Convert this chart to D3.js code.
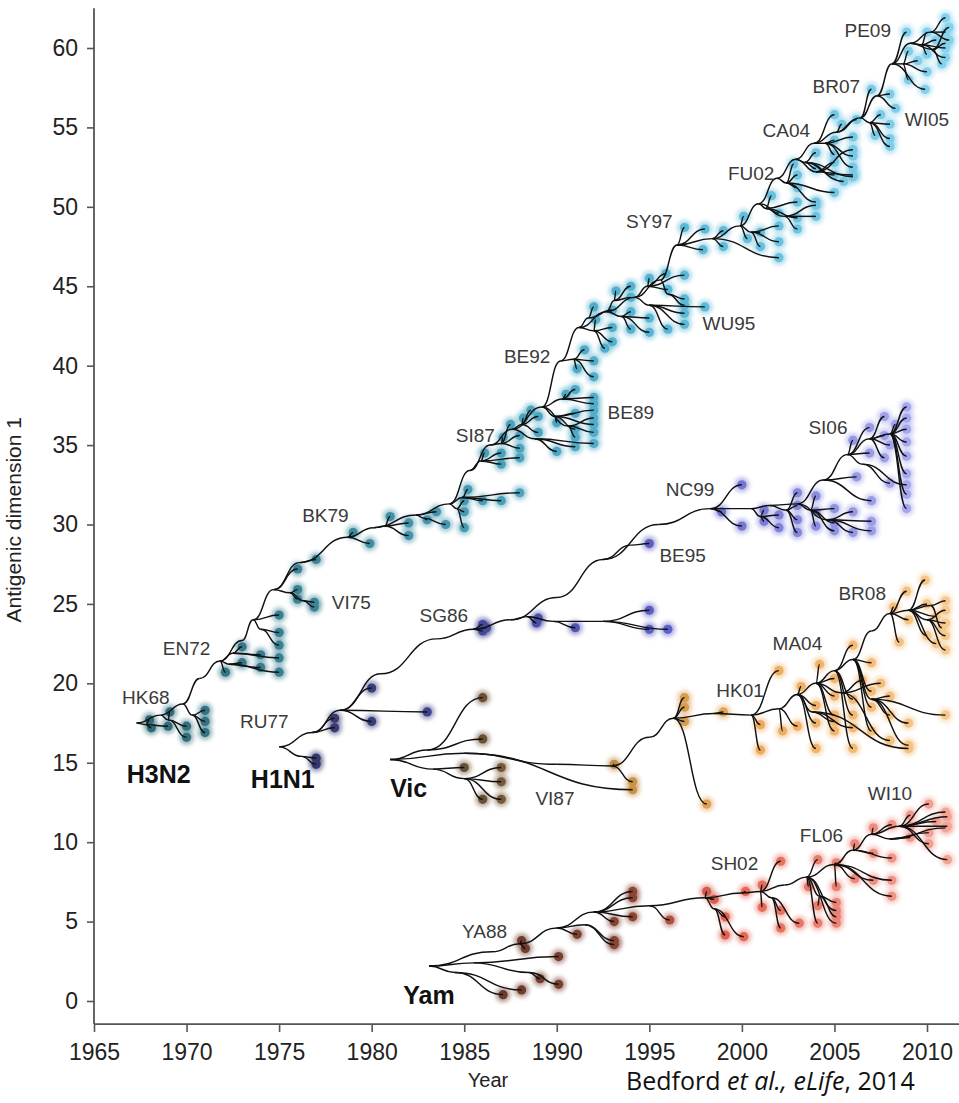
<!DOCTYPE html>
<html>
<head>
<meta charset="utf-8">
<script src="https://cdn.jsdelivr.net/npm/d3@7"></script>
<style>
  body { margin: 0; background: #fff; }
  svg { display: block; font-family: "Liberation Sans", Arial, Helvetica, sans-serif; }
</style>
</head>
<body>
<script>
// ---- axis values ----
var yearTicks = [1965, 1970, 1975, 1980, 1985, 1990, 1995, 2000, 2005, 2010];
var dimTicks = [0, 5, 10, 15, 20, 25, 30, 35, 40, 45, 50, 55, 60];

// ---- H3N2 tree: internal nodes [id, parent, year, dim1] and tips [parent, year, dim1] ----
var h3n2Nodes = [
  ["t0", null, 1967.3, 17.5], ["t1", "t0", 1968.6, 18.0], ["t2", "t1", 1969.8, 18.7],
  ["t3", "t2", 1970.7, 20.3], ["t4", "t3", 1971.8, 21.4], ["t5", "t4", 1973.0, 22.7],
  ["t6", "t5", 1973.6, 24.0], ["t7", "t6", 1974.7, 25.9], ["t8", "t7", 1976.1, 27.6],
  ["t9", "t8", 1978.7, 29.2], ["t10", "t9", 1980.1, 29.8], ["t11", "t10", 1982.4, 30.6],
  ["t12", "t11", 1984.2, 31.3], ["t13", "t12", 1985.3, 33.4], ["t14", "t13", 1986.4, 35.0],
  ["t15", "t14", 1987.6, 36.0], ["t16", "t15", 1989.2, 37.4], ["t17", "t16", 1990.2, 40.3],
  ["t18", "t17", 1991.2, 42.4], ["t19", "t18", 1992.7, 43.4], ["t20", "t19", 1994.2, 44.3],
  ["t21", "t20", 1995.6, 45.4], ["t22", "t21", 1996.5, 47.6], ["t23", "t22", 1998.4, 48.0],
  ["t24", "t23", 1999.9, 48.8], ["t25", "t24", 2000.9, 50.2], ["t26", "t25", 2001.9, 51.8],
  ["t27", "t26", 2002.9, 53.0], ["t28", "t27", 2003.9, 54.0], ["t29", "t28", 2005.1, 54.7],
  ["t30", "t29", 2006.4, 55.6], ["t31", "t30", 2007.3, 57.0], ["t32", "t31", 2008.1, 59.0],
  ["t33", "t32", 2009.1, 60.3], ["t34", "t33", 2010.2, 61.0],
  ["s1", "t0", 1967.8, 17.4], ["s2", "t1", 1969.0, 17.7], ["s3", "t2", 1970.3, 18.0],
  ["s4", "t4", 1972.3, 21.2], ["s5", "t4", 1972.5, 21.9], ["s6", "t6", 1974.0, 23.4],
  ["s8", "t7", 1975.6, 25.7], ["s8b", "s8", 1976.3, 25.2], ["s10", "t10", 1980.7, 29.9],
  ["s11", "t11", 1982.8, 30.4], ["s12", "t12", 1984.6, 31.0], ["s13", "t12", 1984.9, 31.7],
  ["s14", "t13", 1985.9, 34.0], ["s15", "t14", 1987.0, 35.1], ["s16", "t15", 1988.1, 36.3],
  ["s17", "t16", 1989.9, 36.8], ["s18", "t16", 1990.3, 37.9], ["s18b", "t15", 1988.8, 35.4],
  ["s19", "t17", 1990.9, 40.4], ["s20", "t18", 1992.0, 42.2], ["s21", "t19", 1993.5, 43.1],
  ["s22", "t20", 1995.0, 43.8], ["s23", "t19", 1993.1, 44.1], ["s24", "t20", 1994.9, 45.0],
  ["s25", "t18", 1991.7, 43.0], ["s27", "t24", 2000.5, 48.4], ["s28", "t25", 2001.3, 49.9],
  ["s29", "t26", 2002.4, 51.5], ["s30", "t27", 2003.4, 52.8], ["s31", "t28", 2004.5, 54.0],
  ["s32", "t30", 2006.9, 55.3], ["s33", "t32", 2008.7, 59.0], ["s34", "t33", 2009.7, 60.2],
  ["s35", "t25", 2002.3, 49.4], ["s36", "t33", 2010.3, 59.9], ["s37", "t27", 2004.0, 52.2],
  ["s38", "t16", 1990.6, 36.2], ["s39", "t21", 1996.0, 44.5]
];
var h3n2Tips = [
  ["s1", 1968.0, 17.7], ["s1", 1968.1, 17.2], ["s1", 1969.0, 17.3],
  ["s2", 1969.1, 18.2], ["s2", 1970.0, 16.6], ["s2", 1970.0, 17.3],
  ["s3", 1971.0, 16.9], ["s3", 1971.0, 17.6], ["s3", 1971.0, 18.3],
  ["t4", 1972.1, 20.7], ["s4", 1973.0, 21.3], ["s4", 1974.0, 21.0], ["s4", 1975.0, 20.7],
  ["s5", 1973.0, 22.3], ["s5", 1974.0, 21.8], ["s5", 1975.0, 21.6],
  ["s6", 1975.0, 22.4], ["s6", 1975.0, 23.2], ["t6", 1975.0, 24.3],
  ["s8", 1976.0, 25.9], ["s8", 1976.0, 25.3], ["s8b", 1976.9, 25.1], ["s8b", 1976.9, 24.8],
  ["t7", 1976.0, 27.2], ["t8", 1977.0, 27.8],
  ["t9", 1979.0, 29.5], ["t9", 1979.9, 28.8],
  ["s10", 1981.0, 30.5], ["s10", 1982.0, 29.3], ["s10", 1982.0, 30.1],
  ["s11", 1983.0, 30.3], ["s11", 1984.0, 30.0], ["t11", 1983.5, 30.8],
  ["s12", 1985.0, 31.5], ["s12", 1985.0, 30.8], ["s12", 1985.0, 29.8],
  ["s13", 1985.2, 32.2], ["s13", 1986.0, 31.5], ["s13", 1987.0, 31.5], ["s13", 1988.0, 32.0],
  ["s14", 1986.1, 34.5], ["s14", 1987.0, 33.8], ["s14", 1987.0, 34.5], ["s14", 1988.0, 34.2],
  ["s15", 1987.1, 35.5], ["s15", 1988.0, 34.8], ["s15", 1988.0, 35.6], ["s15", 1987.5, 36.3],
  ["s16", 1988.2, 36.7], ["s16", 1989.0, 35.8], ["s16", 1989.0, 36.8], ["s16", 1988.6, 37.2],
  ["s17", 1990.0, 36.4], ["s17", 1991.0, 36.0], ["s17", 1991.0, 37.0], ["s17", 1992.0, 36.3], ["s17", 1992.0, 37.2],
  ["s18", 1990.5, 38.2], ["s18", 1991.0, 38.5], ["s18", 1992.0, 38.0], ["s18", 1992.0, 37.6],
  ["s18b", 1990.0, 34.6], ["s18b", 1991.0, 34.9], ["s18b", 1992.0, 35.1],
  ["s38", 1991.0, 35.5], ["s38", 1992.0, 35.8], ["s38", 1992.0, 36.7],
  ["s19", 1991.1, 39.8], ["s19", 1992.0, 39.3], ["s19", 1992.0, 40.3], ["s19", 1991.5, 41.0],
  ["s20", 1992.1, 42.9], ["s20", 1993.0, 41.5], ["s20", 1993.0, 42.4], ["s20", 1992.6, 41.1],
  ["s21", 1994.0, 42.3], ["s21", 1994.0, 43.4], ["s21", 1995.0, 42.1], ["s21", 1995.0, 43.0],
  ["s22", 1996.0, 42.3], ["s22", 1996.9, 42.6], ["s22", 1996.9, 43.3], ["s22", 1998.0, 43.7],
  ["s23", 1993.2, 44.7], ["s23", 1994.0, 45.0], ["s23", 1994.0, 44.3],
  ["s24", 1995.0, 45.5], ["s24", 1995.9, 45.8], ["s24", 1996.9, 45.7], ["s24", 1996.0, 44.8],
  ["s39", 1996.9, 44.2], ["s39", 1996.9, 43.8],
  ["s25", 1992.0, 43.7], ["s25", 1993.0, 43.5],
  ["t22", 1996.9, 48.7], ["t22", 1997.9, 47.3], ["t22", 1998.0, 48.6],
  ["t23", 1999.0, 47.5], ["t23", 1999.0, 48.5], ["t23", 2002.0, 46.8],
  ["s27", 2001.0, 47.5], ["s27", 2001.0, 48.4], ["s27", 2002.0, 47.8], ["s27", 2002.0, 48.8],
  ["t24", 2000.1, 49.4], ["t24", 2000.3, 48.0],
  ["s28", 2001.6, 50.7], ["s28", 2002.0, 49.6], ["s28", 2003.0, 49.3], ["s28", 2003.0, 50.3],
  ["s35", 2003.0, 48.6], ["s35", 2004.0, 49.4], ["s35", 2004.0, 50.1],
  ["s29", 2003.0, 51.2], ["s29", 2003.0, 52.0], ["s29", 2004.0, 50.3], ["s29", 2002.8, 52.7], ["s29", 2005.0, 50.9],
  ["s30", 2004.0, 52.4], ["s30", 2004.0, 53.4], ["s30", 2005.0, 52.0], ["s30", 2005.5, 51.6], ["s30", 2006.0, 51.9],
  ["s37", 2005.0, 52.8], ["s37", 2006.0, 52.0], ["s37", 2006.0, 53.6],
  ["s31", 2005.0, 53.3], ["s31", 2005.0, 54.2], ["s31", 2006.0, 53.2], ["s31", 2006.0, 54.4], ["s31", 2006.0, 52.5],
  ["t28", 2005.0, 55.8], ["t29", 2005.4, 55.2], ["t29", 2006.2, 55.5],
  ["s32", 2007.2, 54.5], ["s32", 2007.5, 55.8], ["s32", 2008.0, 54.3], ["s32", 2008.0, 55.2], ["s32", 2008.0, 53.8],
  ["t30", 2007.0, 57.4], ["t31", 2008.0, 57.1], ["t31", 2008.3, 56.2],
  ["t32", 2008.9, 61.0], ["t32", 2009.9, 57.4],
  ["s33", 2009.0, 58.0], ["s33", 2009.5, 59.2], ["s33", 2010.0, 58.5], ["s33", 2009.0, 59.8],
  ["s34", 2010.0, 59.6], ["s34", 2010.5, 60.5], ["s34", 2011.0, 60.0], ["s34", 2011.0, 59.4], ["s34", 2010.0, 61.0],
  ["s36", 2011.0, 60.3], ["s36", 2010.8, 59.0], ["s36", 2011.2, 61.3],
  ["t34", 2011.0, 61.9], ["t34", 2011.0, 61.0], ["t34", 2011.2, 60.5]
];

// ---- H1N1 tree ----
var h1n1Nodes = [
  ["n0", null, 1975.0, 16.0], ["n1", "n0", 1976.2, 15.4], ["n2", "n0", 1976.8, 16.9],
  ["n3", "n2", 1978.3, 18.3], ["n4", "n3", 1980.5, 20.6], ["n5", "n4", 1983.5, 22.8],
  ["n6", "n5", 1985.5, 23.4], ["n7", "n6", 1987.5, 24.0], ["n8", "n7", 1988.4, 24.2],
  ["n9", "n8", 1989.8, 23.9], ["n10", "n9", 1992.5, 23.9], ["n11", "n7", 1990.0, 25.4],
  ["n12", "n11", 1992.5, 27.8], ["n13", "n12", 1994.0, 28.7], ["n14", "n12", 1995.5, 30.0],
  ["n15", "n14", 1998.3, 31.0], ["n16", "n15", 2000.5, 31.0], ["n17", "n16", 2001.5, 31.2],
  ["n18", "n17", 2003.0, 31.3], ["n19", "n18", 2004.4, 32.8], ["n20", "n19", 2005.7, 34.4],
  ["n21", "n20", 2006.9, 35.4], ["n22", "n21", 2008.0, 35.7],
  ["na", "n16", 2001.0, 30.5], ["nb", "n17", 2002.4, 30.9], ["nc", "n18", 2003.7, 30.9],
  ["nd", "n18", 2004.6, 30.3], ["ne", "n20", 2006.5, 33.8]
];
var h1n1Tips = [
  ["n1", 1977.0, 15.3], ["n1", 1977.0, 14.9],
  ["n2", 1978.0, 17.8], ["n2", 1978.0, 17.2],
  ["n3", 1980.0, 19.7], ["n3", 1980.0, 17.6], ["n3", 1983.0, 18.2],
  ["n6", 1986.0, 23.3], ["n6", 1986.0, 23.7], ["n6", 1986.2, 23.5],
  ["n8", 1988.9, 23.8], ["n8", 1989.0, 24.1], ["n9", 1991.0, 23.5],
  ["n10", 1995.0, 24.6], ["n10", 1995.0, 23.4], ["n10", 1996.0, 23.4],
  ["n13", 1995.0, 28.8],
  ["n15", 1998.9, 30.8], ["n15", 2000.0, 32.5], ["n15", 2000.0, 29.9],
  ["na", 2001.2, 30.9], ["na", 2001.2, 30.2], ["na", 2002.0, 30.6], ["na", 2002.0, 29.8],
  ["nb", 2003.0, 32.0], ["nb", 2003.0, 31.2], ["nb", 2003.0, 30.3], ["nb", 2003.0, 29.5],
  ["nc", 2004.0, 31.8], ["nc", 2004.0, 30.8], ["nc", 2004.0, 29.9], ["nc", 2005.0, 31.0], ["nc", 2005.0, 30.1], ["nc", 2005.0, 29.6],
  ["nd", 2006.0, 30.8], ["nd", 2006.0, 29.5], ["nd", 2007.0, 30.2], ["nd", 2007.0, 29.6],
  ["n19", 2006.2, 33.0], ["n19", 2007.0, 31.5],
  ["ne", 2008.0, 32.6], ["ne", 2008.9, 32.5],
  ["n20", 2006.0, 35.3], ["n20", 2006.9, 34.5], ["n20", 2006.9, 36.1],
  ["n21", 2007.7, 36.8], ["n21", 2007.7, 35.6], ["n21", 2007.7, 34.2], ["n21", 2008.0, 35.0],
  ["n22", 2008.9, 37.4], ["n22", 2008.9, 36.7], ["n22", 2008.9, 36.0], ["n22", 2008.9, 35.2],
  ["n22", 2008.9, 34.3], ["n22", 2008.9, 33.2], ["n22", 2008.9, 31.9], ["n22", 2008.9, 31.0],
  ["n22", 2008.3, 36.3]
];

// ---- B/Victoria tree ----
var vicNodes = [
  ["v0", null, 1981.0, 15.2], ["va", "v0", 1983.0, 15.8], ["vb", "v0", 1983.3, 14.6],
  ["vb2", "vb", 1985.0, 14.0], ["v1", "v0", 1985.0, 15.6], ["v2", "v1", 1990.0, 14.9],
  ["v3", "v2", 1993.0, 14.8], ["v4", "v3", 1995.0, 16.6], ["v5", "v4", 1996.3, 17.8],
  ["v6", "v5", 1998.5, 18.1], ["v7", "v6", 2000.5, 18.0], ["v8", "v7", 2002.0, 18.4],
  ["v9", "v8", 2003.0, 19.3], ["v10", "v9", 2004.0, 20.0], ["v11", "v10", 2005.0, 20.8],
  ["v12", "v11", 2006.0, 21.5], ["v12b", "v12", 2007.0, 19.0], ["v13", "v12", 2007.0, 23.3],
  ["v14", "v13", 2008.0, 24.4], ["v15", "v14", 2009.0, 24.6], ["v16", "v15", 2010.0, 24.0],
  ["v10b", "v10", 2005.4, 19.4], ["v15b", "v15", 2010.2, 24.9], ["v9b", "v9", 2003.8, 18.2]
];
var vicTips = [
  ["va", 1986.0, 19.1], ["va", 1986.0, 16.5], ["vb", 1985.0, 14.7],
  ["vb2", 1987.0, 14.7], ["vb2", 1987.0, 13.8], ["vb2", 1986.0, 12.7], ["vb2", 1987.0, 12.7],
  ["v3", 1993.1, 14.9], ["v3", 1994.1, 13.8], ["v1", 1994.1, 13.3],
  ["v5", 1996.9, 19.1], ["v5", 1996.9, 18.5], ["v5", 1996.9, 17.6], ["v5", 1998.1, 12.4],
  ["v6", 1999.0, 18.2], ["v7", 2001.0, 15.8], ["v7", 2001.0, 17.4], ["v7", 2002.0, 20.8],
  ["v8", 2002.2, 17.0], ["v8", 2003.0, 17.3],
  ["v9", 2003.2, 19.8], ["v9", 2004.0, 18.6], ["v9", 2004.0, 17.5], ["v9", 2004.0, 15.9],
  ["v9b", 2005.0, 17.6], ["v9b", 2006.0, 17.2], ["v9b", 2009.0, 15.9],
  ["v10", 2004.2, 21.2], ["v10", 2005.0, 20.3], ["v10", 2005.0, 19.2], ["v10", 2005.0, 18.0], ["v10", 2005.0, 17.0],
  ["v10b", 2006.5, 20.2], ["v10b", 2007.5, 20.0], ["v10b", 2008.0, 16.4],
  ["v11", 2006.0, 22.4], ["v11", 2006.0, 19.0], ["v11", 2006.0, 18.0], ["v11", 2006.0, 15.9],
  ["v12", 2007.0, 21.3], ["v12", 2007.0, 19.5], ["v12", 2007.0, 18.5], ["v12", 2007.0, 17.0],
  ["v12b", 2008.0, 19.2], ["v12b", 2008.0, 18.0], ["v12b", 2009.0, 16.1], ["v12b", 2009.0, 17.5], ["v12b", 2011.0, 18.0],
  ["v14", 2008.2, 24.8], ["v14", 2008.9, 25.8], ["v14", 2009.0, 24.0], ["v14", 2008.5, 22.6],
  ["v15", 2009.9, 26.5], ["v15", 2010.0, 25.0], ["v15", 2010.0, 23.0], ["v15", 2010.5, 22.5], ["v15", 2010.5, 24.2],
  ["v15b", 2011.0, 25.2], ["v15b", 2010.8, 23.5],
  ["v16", 2011.0, 24.6], ["v16", 2011.0, 23.8], ["v16", 2011.0, 23.0], ["v16", 2011.0, 22.1]
];

// ---- B/Yamagata tree ----
var yamNodes = [
  ["y0", null, 1983.1, 2.2], ["ya", "y0", 1984.5, 1.8], ["yb", "y0", 1985.5, 2.4],
  ["yb2", "yb", 1988.5, 1.8], ["y2", "y0", 1986.5, 3.1], ["y3", "y2", 1988.0, 3.6],
  ["y4", "y3", 1990.0, 4.6], ["yc", "y4", 1991.5, 4.8], ["y5", "y4", 1992.0, 5.6],
  ["y6", "y5", 1995.0, 6.0], ["y7", "y6", 1998.0, 6.5], ["yd", "y7", 1998.5, 5.8],
  ["y8", "y7", 2000.0, 6.8], ["y9", "y8", 2001.0, 6.9], ["ye", "y9", 2001.6, 6.5],
  ["y10", "y9", 2002.3, 7.3], ["y11", "y10", 2003.5, 7.8], ["y12", "y11", 2005.0, 8.6],
  ["y13", "y12", 2006.0, 9.5], ["y14", "y13", 2007.0, 10.5], ["y15", "y14", 2008.5, 11.0],
  ["yf", "y11", 2004.2, 6.6], ["yg", "y14", 2008.0, 10.2]
];
var yamTips = [
  ["ya", 1987.1, 0.4], ["ya", 1988.1, 0.7], ["yb2", 1989.1, 1.4], ["yb2", 1990.1, 1.05], ["yb", 1990.1, 2.8],
  ["y3", 1988.1, 3.8], ["y3", 1988.3, 3.3], ["y4", 1991.1, 4.2],
  ["yc", 1993.1, 3.8], ["yc", 1993.1, 3.55],
  ["y5", 1994.1, 6.5], ["y5", 1994.1, 6.9], ["y5", 1994.1, 5.3], ["y5", 1993.1, 5.0],
  ["y6", 1996.1, 5.1], ["y7", 1998.1, 6.9], ["y7", 1998.5, 6.4],
  ["yd", 1999.1, 4.15], ["yd", 2000.1, 4.05], ["yd", 1999.1, 5.3],
  ["y8", 2000.2, 6.9], ["y9", 2001.1, 7.3], ["y9", 2001.1, 5.9], ["y9", 2002.1, 8.8],
  ["ye", 2002.1, 4.6], ["ye", 2002.1, 5.7], ["ye", 2003.1, 4.9],
  ["yf", 2005.1, 6.2], ["yf", 2005.1, 5.3], ["yf", 2004.1, 6.0],
  ["y11", 2004.1, 8.9], ["y11", 2004.1, 4.9], ["y11", 2005.1, 5.7], ["y11", 2005.1, 4.9], ["y11", 2003.6, 7.2],
  ["y12", 2005.1, 8.7], ["y12", 2005.1, 7.2], ["y12", 2006.1, 7.7], ["y12", 2007.1, 7.6], ["y12", 2008.1, 7.6], ["y12", 2008.1, 6.6],
  ["y13", 2006.1, 9.9], ["y13", 2007.1, 9.3], ["y13", 2008.1, 9.0],
  ["y14", 2007.1, 10.9], ["y14", 2008.1, 11.1],
  ["yg", 2009.1, 10.3], ["yg", 2010.1, 10.6], ["yg", 2011.0, 10.9],
  ["y15", 2009.1, 11.0], ["y15", 2009.1, 11.7], ["y15", 2010.1, 12.4], ["y15", 2010.1, 9.9],
  ["y15", 2011.1, 11.0], ["y15", 2011.1, 11.6], ["y15", 2011.1, 8.9], ["y15", 2010.5, 11.3], ["y15", 2011.0, 11.9]
];

// ---- colour ramps by year ----
var h3n2ColorYears = [1968, 1980, 1995, 2011];
var h3n2Colors = ["#2f6977", "#3f8ea3", "#55b5d4", "#86d2ec"];
var h1n1ColorYears = [1977, 1986, 1996, 2009];
var h1n1Colors = ["#35386e", "#44489a", "#5d60c8", "#a7a8ee"];
var vicColorYears = [1986, 1994, 2001, 2011];
var vicColors = ["#6a5033", "#c99448", "#eeaa5a", "#f6c98f"];
var yamColorYears = [1987, 1994, 1999, 2011];
var yamColors = ["#6a3a2c", "#8a4535", "#e3604f", "#f3a497"];

// ---- labels [text, year, dim1] ----
var strainLabels = [
  ["HK68", 1967.8, 19.1], ["EN72", 1970.0, 22.2], ["VI75", 1978.9, 25.1], ["BK79", 1977.5, 30.6],
  ["SI87", 1985.6, 35.6], ["BE92", 1988.4, 40.6], ["BE89", 1994.0, 37.1], ["WU95", 1999.3, 42.7],
  ["SY97", 1995.0, 49.1], ["FU02", 2000.5, 52.1], ["CA04", 2002.4, 54.8], ["BR07", 2005.1, 57.6],
  ["PE09", 2006.8, 61.1], ["WI05", 2010.0, 55.5],
  ["RU77", 1974.2, 17.6], ["SG86", 1983.9, 24.3], ["BE95", 1996.8, 28.1], ["NC99", 1997.2, 32.2],
  ["SI06", 2004.65, 36.1],
  ["VI87", 1989.9, 12.8], ["HK01", 1999.9, 19.6], ["MA04", 2003.0, 22.5], ["BR08", 2006.5, 25.7],
  ["YA88", 1986.1, 4.4], ["SH02", 1999.6, 8.7], ["FL06", 2004.3, 10.45], ["WI10", 2008.0, 13.1]
];
var lineageLabels = [
  ["H3N2", 1968.5, 14.3], ["H1N1", 1975.2, 14.0], ["Vic", 1982.0, 13.4], ["Yam", 1983.1, 0.4]
];

// ---- set up ----
var W = 959, H = 1103;
var x = d3.scaleLinear().domain([1965, 2010]).range([94, 927]);
var y = d3.scaleLinear().domain([0, 60]).range([1001, 48]);
var xMin = 1965, xMax = 2011.73, yMin = -1.45, yMax = 62.5;

var svg = d3.select('body').append('svg')
  .attr('width', W)
  .attr('height', H);

var glow = svg.append('defs').append('filter')
  .attr('id', 'glow')
  .attr('x', '-100%').attr('y', '-100%')
  .attr('width', '300%').attr('height', '300%');
glow.append('feGaussianBlur').attr('stdDeviation', 2);

// axes
var xAxis = d3.axisBottom(x)
  .tickValues(yearTicks)
  .tickFormat(d3.format('d'))
  .tickSize(8)
  .tickPadding(12);
var gx = svg.append('g')
  .attr('transform', 'translate(0,' + y(yMin) + ')')
  .call(xAxis);

var yAxis = d3.axisLeft(y)
  .tickValues(dimTicks)
  .tickSize(7)
  .tickPadding(9);
var gy = svg.append('g')
  .attr('transform', 'translate(' + x(xMin) + ',0)')
  .call(yAxis);

[gx, gy].forEach(function(g){
  g.select('.domain').remove();
  g.selectAll('.tick line').attr('stroke', '#555').attr('stroke-width', 1.6);
  g.selectAll('.tick text')
    .attr('fill', '#222')
    .style('font-size', '23px')
    .style('font-family', '"Liberation Sans", Arial, sans-serif');
});

svg.append('line')
  .attr('x1', x(xMin)).attr('x2', x(xMax))
  .attr('y1', y(yMin)).attr('y2', y(yMin))
  .attr('stroke', '#555').attr('stroke-width', 1.8);
svg.append('line')
  .attr('x1', x(xMin)).attr('x2', x(xMin))
  .attr('y1', y(yMin)).attr('y2', y(yMax))
  .attr('stroke', '#555').attr('stroke-width', 1.8);

svg.append('text')
  .attr('transform', 'translate(21,' + y(30.3) + ') rotate(-90)')
  .attr('text-anchor', 'middle')
  .attr('fill', '#222')
  .style('font-size', '21px')
  .text('Antigenic dimension 1');

svg.append('text')
  .attr('x', 488).attr('y', 1087)
  .attr('text-anchor', 'middle')
  .attr('fill', '#222')
  .style('font-size', '20px')
  .text('Year');

var cite = svg.append('text')
  .attr('x', 626).attr('y', 1090)
  .attr('fill', '#111')
  .style('font-family', '"Open Sans", "Noto Sans", sans-serif')
  .style('font-size', '25px');
cite.append('tspan').text('Bedford ');
cite.append('tspan').style('font-style', 'italic').text('et al., eLife');
cite.append('tspan').text(', 2014');

// trees
var link = d3.linkHorizontal()
  .x(function(d){ return x(d.year); })
  .y(function(d){ return y(d.value); });

function drawTree(nodes, tips, colorYears, colors){

  var color = d3.scaleLinear().domain(colorYears).range(colors).clamp(true);
  var byId = new Map(nodes.map(function(d){ return [d[0], {year: d[2], value: d[3]}]; }));
  var links = [];

  nodes.forEach(function(d){
    if(d[1]) links.push({source: byId.get(d[1]), target: byId.get(d[0])});
  });
  var tipPts = tips.map(function(d){
    var p = {year: d[1], value: d[2]};
    links.push({source: byId.get(d[0]), target: p});
    return p;
  });

  var g = svg.append('g');

  g.append('g').selectAll('circle')
    .data(tipPts).join('circle')
    .attr('cx', function(d){ return x(d.year); })
    .attr('cy', function(d){ return y(d.value); })
    .attr('r', 7.5)
    .attr('fill', function(d){ return color(d.year); })
    .attr('opacity', 0.5)
    .attr('filter', 'url(#glow)');

  g.append('g').selectAll('circle')
    .data(tipPts).join('circle')
    .attr('cx', function(d){ return x(d.year); })
    .attr('cy', function(d){ return y(d.value); })
    .attr('r', 4.6)
    .attr('fill', function(d){ return color(d.year); });

  g.append('g').selectAll('path')
    .data(links).join('path')
    .attr('d', link)
    .attr('fill', 'none')
    .attr('stroke', '#111')
    .attr('stroke-width', 1.45);
}

drawTree(h3n2Nodes, h3n2Tips, h3n2ColorYears, h3n2Colors);
drawTree(h1n1Nodes, h1n1Tips, h1n1ColorYears, h1n1Colors);
drawTree(vicNodes, vicTips, vicColorYears, vicColors);
drawTree(yamNodes, yamTips, yamColorYears, yamColors);

// labels
svg.append('g').selectAll('text')
  .data(strainLabels).join('text')
  .attr('x', function(d){ return x(d[1]); })
  .attr('y', function(d){ return y(d[2]); })
  .attr('dy', '0.36em')
  .attr('text-anchor', 'middle')
  .attr('fill', '#3a3a3a')
  .style('font-size', '19px')
  .text(function(d){ return d[0]; });

svg.append('g').selectAll('text')
  .data(lineageLabels).join('text')
  .attr('x', function(d){ return x(d[1]); })
  .attr('y', function(d){ return y(d[2]); })
  .attr('dy', '0.36em')
  .attr('text-anchor', 'middle')
  .attr('fill', '#111')
  .style('font-size', '25px')
  .style('font-weight', 'bold')
  .text(function(d){ return d[0]; });
</script>
</body>
</html>
